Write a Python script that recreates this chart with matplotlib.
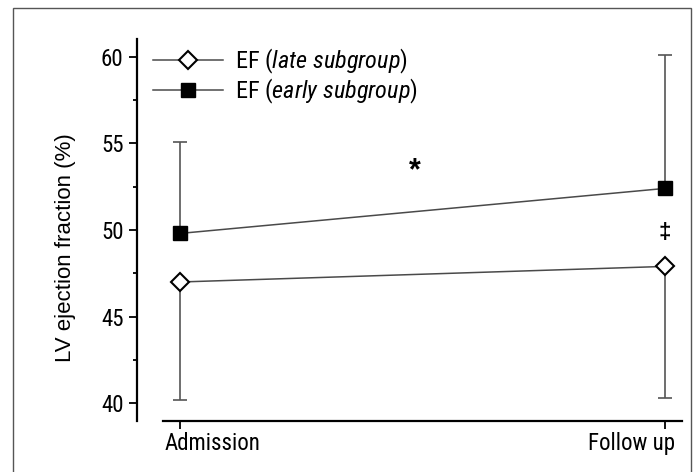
import matplotlib
matplotlib.use("Agg")
import matplotlib.pyplot as plt
import matplotlib.transforms as mtransforms
from matplotlib.patches import Rectangle
from matplotlib.ticker import MultipleLocator

# ---- data ----
timepoints = ["Admission", "Follow up"]
ef_late = [47.0, 47.9]
ef_early = [49.8, 52.4]
late_sd = [6.8, 7.6]      # drawn downward only
early_sd = [5.3, 7.7]     # drawn upward only
label_late = "EF $\\it{(late\\ subgroup)}$"
label_early = "EF $\\it{(early\\ subgroup)}$"
y_ticks = [40, 45, 50, 55, 60]
star_pos = (0.485, 52.95)
dagger_pos = (1.0, 49.55)

cond = ["Roboto Condensed", "DejaVu Sans"]
plt.rcParams['font.family'] = cond
plt.rcParams['mathtext.fontset'] = 'custom'
plt.rcParams['mathtext.rm'] = 'Roboto Condensed'
plt.rcParams['mathtext.it'] = 'Roboto Condensed:italic'

fig = plt.figure(figsize=(6.94, 4.72), dpi=100)
ax = fig.add_axes([0.2349, 0.1087, 0.748, 0.808])

x = list(range(len(timepoints)))
line_col = "#4a4a4a"
err_col = "#555555"

# error bars (one-sided)
ax.errorbar(x, ef_early, yerr=[[0]*len(x), early_sd], fmt='none', ecolor=err_col,
            elinewidth=1.2, capsize=4.7, capthick=1.2, zorder=1)
ax.errorbar(x, ef_late, yerr=[late_sd, [0]*len(x)], fmt='none', ecolor=err_col,
            elinewidth=1.2, capsize=4.7, capthick=1.2, zorder=1)

ax.plot(x, ef_late, color=line_col, lw=1.1, marker='D', ms=9.5, mfc='white',
        mec='black', mew=1.5, label=label_late, zorder=3)
ax.plot(x, ef_early, color=line_col, lw=1.1, marker='s', ms=10, mfc='black',
        mec='black', mew=1.0, label=label_early, zorder=3)

ax.text(star_pos[0], star_pos[1], "*", fontsize=22, fontweight='bold',
        family=["Liberation Sans", "DejaVu Sans"], ha='center', va='baseline')
ax.text(dagger_pos[0], dagger_pos[1], "\u2021", fontsize=16, fontweight='bold',
        family=["Liberation Sans", "DejaVu Sans"], ha='center', va='baseline')

ax.set_xlim(-0.034, 1.035)
ax.set_ylim(39, 61)
ax.set_yticks(y_ticks)
ax.yaxis.set_minor_locator(MultipleLocator(2.5))
ax.set_xticks(x)
ax.set_xticklabels(timepoints)

for s in ['top', 'right']:
    ax.spines[s].set_visible(False)
ax.spines['left'].set_position(('outward', 18.7))
ax.spines['left'].set_linewidth(1.6)
ax.spines['bottom'].set_linewidth(1.6)

ax.tick_params(axis='y', which='major', direction='out', length=5.8, width=1.3,
               labelsize=16.5, pad=4)
ax.tick_params(axis='y', which='minor', direction='out', length=3, width=1.3)
ax.tick_params(axis='x', which='major', direction='out', length=5.8, width=1.3,
               labelsize=16.5, pad=2)

# shift x tick labels inward like the original
labels = ax.get_xticklabels()
labels[0].set_horizontalalignment('left')
labels[0].set_transform(labels[0].get_transform() +
                        mtransforms.ScaledTranslation(-14.5/100, 0, fig.dpi_scale_trans))
labels[1].set_horizontalalignment('right')
labels[1].set_transform(labels[1].get_transform() +
                        mtransforms.ScaledTranslation(10/100, 0, fig.dpi_scale_trans))

fig.text(66/694, 1 - 248/472, "LV ejection fraction (%)", rotation=90,
         fontsize=16, family=["Liberation Sans", "DejaVu Sans"],
         ha='center', va='center')

leg = ax.legend(loc='upper left', bbox_to_anchor=(-0.019, 0.981), frameon=False,
                fontsize=17.5, handlelength=2.87, handletextpad=0.48,
                borderpad=0, borderaxespad=0, labelspacing=0.05)

fig.patches.append(Rectangle((13/694, -0.02), (690.7-13)/694, 1 - 7.5/472 + 0.02,
                             transform=fig.transFigure, fill=False,
                             edgecolor='#555555', lw=1.0))

fig.savefig("out.png", dpi=100)
